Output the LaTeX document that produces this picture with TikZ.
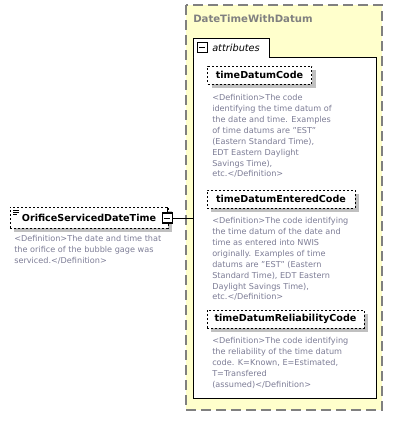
\documentclass[tikz,border=0pt]{standalone}
\usepackage{fontspec}
\setmainfont{DejaVu Sans}
\usetikzlibrary{positioning}

\definecolor{typeyellow}{RGB}{255,255,204}
\definecolor{typegrey}{RGB}{128,128,128}
\definecolor{defgrey}{RGB}{125,125,150}
\definecolor{shadowgrey}{RGB}{192,192,192}

\tikzset{
  elembox/.style={draw, fill=white, dash pattern=on 1.5pt off 1.5pt, inner sep=0pt,
    minimum height=13.5pt, font=\bfseries\fontsize{7.2}{8}\selectfont},
  elemshadow/.style={fill=shadowgrey, draw=none, inner sep=0pt, minimum height=13.5pt},
  deftext/.style={anchor=north west, inner sep=0pt, align=left, text=defgrey,
    font=\fontsize{6.1}{8.2}\selectfont},
  minusbox/.style={draw, fill=white, thick, inner sep=0pt, minimum size=7.5pt},
}

\begin{document}
\begin{tikzpicture}[x=0.75pt, y=-0.75pt]
    \useasboundingbox (0,0) rectangle (400,428);

    % the complex type box
    \draw[typegrey, fill=typeyellow, dash pattern=on 7.5pt off 3.75pt, thick] (186,5) rectangle (382,410);
    \node[anchor=west, text=typegrey, font=\bfseries\fontsize{7.6}{9}\selectfont, inner sep=0pt] (typename) at (193,19) {DateTimeWithDatum};

    % the attributes group
    \node[draw, fill=white, thick, anchor=north west, minimum width=57pt, minimum height=14.25pt, inner sep=0pt] (attrtab) at (193,38) {};
    \node[draw, fill=white, thick, anchor=north west, minimum width=137.25pt, minimum height=255.75pt, inner sep=0pt] (attrbox) at (193,57) {};
    \node[minusbox, minimum size=7pt] (attrminus) at (202.5,47.5) {};
    \draw (attrminus.west) ++(1.2pt,0) -- ++(4.6pt,0);
    \node[anchor=west, font=\itshape\fontsize{7.3}{8}\selectfont, inner sep=0pt] (attrlabel) at (212,47.5) {attributes};
    % cover the line between tab and box
    \draw[white, line width=1pt] ([xshift=0.5pt]attrtab.south west) -- ([xshift=-0.5pt]attrtab.south east);

    % attribute timeDatumCode
    \node[elemshadow, minimum width=78pt] at (263.5,79) {};
    \node[elembox, minimum width=78pt] (datumcode) at (259.5,75) {timeDatumCode};
    \node[deftext] (datumcodedef) at (212,94) {<Definition>The code\\identifying the time datum of\\the date and time. Examples\\of time datums are "EST"\\(Eastern Standard Time),\\EDT Eastern Daylight\\Savings Time),\\etc.</Definition>};

    % attribute timeDatumEnteredCode
    \node[elemshadow, minimum width=111pt] at (285,203) {};
    \node[elembox, minimum width=111pt] (enteredcode) at (281,199) {timeDatumEnteredCode};
    \node[deftext] (enteredcodedef) at (212,217) {<Definition>The code identifying\\the time datum of the date and\\time as entered into NWIS\\originally. Examples of time\\datums are "EST" (Eastern\\Standard Time), EDT Eastern\\Daylight Savings Time),\\etc.</Definition>};

    % attribute timeDatumReliabilityCode
    \node[elemshadow, minimum width=117.75pt] at (289.5,323) {};
    \node[elembox, minimum width=117.75pt] (reliabilitycode) at (285.5,319) {timeDatumReliabilityCode};
    \node[deftext] (reliabilitycodedef) at (212,337) {<Definition>The code identifying\\the reliability of the time datum\\code. K=Known, E=Estimated,\\T=Transfered\\(assumed)</Definition>};

    % the root element
    \node[elemshadow, minimum width=118.5pt, minimum height=15.75pt] at (93,221.5) {};
    \node[elembox, minimum width=118.5pt, minimum height=15.75pt] (orifice) at (89,217.5) {OrificeServicedDateTime};
    \draw (13,210) -- ++(6,0) (13,212) -- ++(6,0) (13,214) -- ++(4,0);
    \node[minusbox] (orificeminus) at (167.5,218) {};
    \draw (orificeminus.west) ++(1.2pt,0) -- ++(5.1pt,0);
    \draw (orificeminus.north) -- ++(0,3.75pt);
    \node[deftext] (orificedef) at (14,235) {<Definition>The date and time that\\the orifice of the bubble gage was\\serviced.</Definition>};

    % the connector
    \draw (orificeminus.east) -- (orificeminus.east -| attrbox.west);
\end{tikzpicture}
\end{document}
